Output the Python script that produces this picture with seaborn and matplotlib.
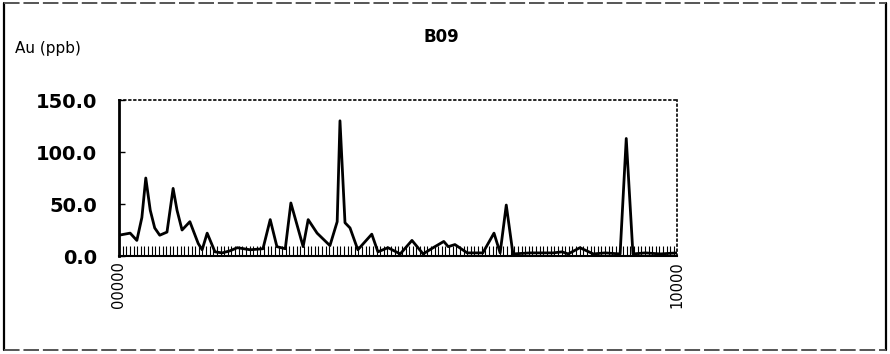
import matplotlib
matplotlib.use("Agg")
import matplotlib.pyplot as plt
from matplotlib.lines import Line2D
from matplotlib.ticker import FixedLocator, MultipleLocator
import seaborn as sns
import pandas as pd

# Sample positions along the traverse and gold assays (ppb)
distance = [0, 200, 320, 410, 480, 560, 640, 730, 860, 970, 1040, 1130,
            1270, 1420, 1490, 1580, 1720, 1850, 1990, 2120, 2350, 2580,
            2710, 2830, 2980, 3080, 3300, 3390, 3550, 3780, 3910, 3960,
            4050, 4140, 4280, 4530, 4640, 4820, 5040, 5250, 5450, 5630,
            5820, 5900, 6020, 6240, 6520, 6720, 6830, 6940, 7060, 7370,
            7780, 7940, 8050, 8260, 8500, 8710, 8980, 9090, 9210, 9430,
            9700, 10000]
au_ppb = [20, 22, 15, 37, 75, 44, 27, 20, 23, 65, 44, 25,
          33, 12, 6, 22, 4, 3, 5, 8, 6, 7,
          35, 9, 7, 51, 9, 35, 22, 10, 33, 130,
          32, 27, 6, 21, 4, 8, 2, 15, 2, 8,
          14, 9, 11, 3, 3, 22, 3, 49, 2, 3,
          3, 4, 2, 8, 2, 3, 2, 113, 2, 3,
          2, 3]
y_ticks = [0, 50, 100, 150]
y_tick_labels = ["0.0", "50.0", "100.0", "150.0"]
x_ticks = [0, 10000]
x_tick_labels = ["00000", "10000"]
title = "B09"
y_label = "Au (ppb)"

df = pd.DataFrame({"distance": distance, "au": au_ppb})

sns.set_theme(style="white")
plt.rcParams["font.family"] = ["DejaVu Sans"]
plt.rcParams["text.color"] = "black"

fig = plt.figure(figsize=(8.9, 3.54), dpi=100)
ax = fig.add_axes([0.1337, 0.2768, 0.627, 0.4407])

sns.lineplot(data=df, x="distance", y="au", ax=ax, color="black",
             linewidth=2.0, estimator=None)

ax.set_xlim(0, 10000)
ax.set_ylim(0, 150)
ax.set_xlabel("")
ax.set_ylabel("")

ax.yaxis.set_major_locator(FixedLocator(y_ticks))
ax.set_yticklabels(y_tick_labels, fontsize=14, fontweight="bold")
ax.xaxis.set_major_locator(FixedLocator(x_ticks))
ax.set_xticklabels(x_tick_labels, rotation=90, fontsize=10.5)
ax.xaxis.set_minor_locator(MultipleLocator(65))

ax.tick_params(axis="y", which="major", direction="in", length=4, width=1,
               pad=16, left=True, colors="black")
ax.tick_params(axis="x", which="major", direction="in", length=0, pad=4,
               bottom=True, colors="black")
ax.tick_params(axis="x", which="minor", direction="in", length=7, width=0.8,
               bottom=True, color="black")

for side in ("top", "right"):
    ax.spines[side].set_linestyle((0, (1, 2)))
    ax.spines[side].set_linewidth(1.2)
    ax.spines[side].set_color("black")
ax.spines["left"].set_linewidth(2.0)
ax.spines["left"].set_color("black")
ax.spines["bottom"].set_linewidth(1.5)
ax.spines["bottom"].set_color("black")

fig.text(441 / 890, 1 - 37 / 354, title, ha="center", va="center",
         fontsize=12, fontweight="bold", color="black")
fig.text(48 / 890, 1 - 49 / 354, y_label, ha="center", va="center",
         fontsize=11, color="black")

# Outer frame of the panel
W, H = 890, 354
fig.add_artist(Line2D([4 / W, 4 / W], [1 - 3 / H, 1 - 350 / H],
                      transform=fig.transFigure, color="black", lw=1.6))
fig.add_artist(Line2D([886 / W, 886 / W], [1 - 3 / H, 1 - 350 / H],
                      transform=fig.transFigure, color="black", lw=1.6))
fig.add_artist(Line2D([4 / W, 886 / W], [1 - 3 / H, 1 - 3 / H],
                      transform=fig.transFigure, color="#555555", lw=1.4,
                      linestyle=(0, (8, 2))))
fig.add_artist(Line2D([4 / W, 886 / W], [1 - 350 / H, 1 - 350 / H],
                      transform=fig.transFigure, color="#555555", lw=1.4,
                      linestyle=(0, (8, 2))))

fig.savefig("out.png", dpi=100)
